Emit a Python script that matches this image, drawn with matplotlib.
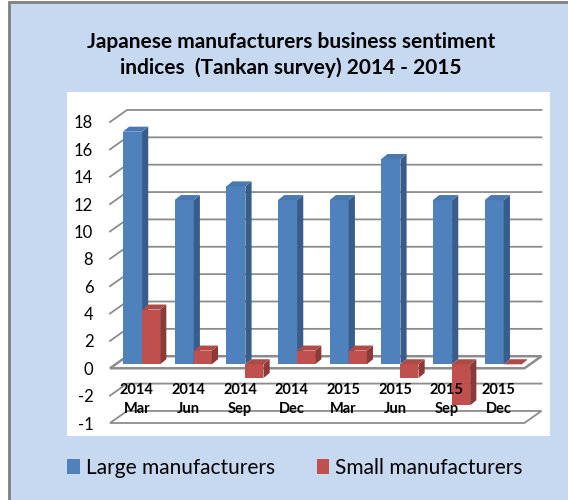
import matplotlib
matplotlib.use('Agg')
import matplotlib.pyplot as plt
from matplotlib.patches import Rectangle, Polygon

plt.rcParams['font.family'] = ['Lato', 'DejaVu Sans']

# data
periods = ['2014\nMar', '2014\nJun', '2014\nSep', '2014\nDec',
           '2015\nMar', '2015\nJun', '2015\nSep', '2015\nDec']
large = [17, 12, 13, 12, 12, 15, 12, 12]
small = [4, 1, -1, 1, 1, -1, -3, 0]
y_ticks = [18, 16, 14, 12, 10, 8, 6, 4, 2, 0, -2, -4]
y_labels = ['18', '16', '14', '12', '10', '8', '6', '4', '2', '0', '-2', '-1']

W, H = 568, 500
BG = '#c6d9f1'
BLUE, BLUE_SIDE, BLUE_TOP = '#4f81bd', '#385d8a', '#4a78b0'
RED, RED_SIDE, RED_TOP = '#c0504d', '#8c3a38', '#b04a47'
GRID = '#8c8c8c'


def fx(px):
    return px / W


def fy(py):
    return 1 - py / H


fig = plt.figure(figsize=(W / 100, H / 100), dpi=100)
fig.patch.set_facecolor('white')
# outer chart area + white plot area
fig.patches.append(Rectangle((fx(9), fy(H + 20)), 1.2, fy(2) - fy(H + 20), transform=fig.transFigure,
                             facecolor=BG, edgecolor='#7f7f7f', linewidth=2, zorder=-2))
fig.patches.append(Rectangle((fx(67), fy(436)), fx(550) - fx(67), fy(92) - fy(436), transform=fig.transFigure,
                             facecolor='white', edgecolor='none', zorder=-1))

fig.text(fx(291), fy(42), 'Japanese manufacturers business sentiment', ha='center', va='center',
         fontsize=15, fontweight='bold')
fig.text(fx(291), fy(68), 'indices  (Tankan survey) 2014 - 2015', ha='center', va='center',
         fontsize=15, fontweight='bold')

# axes: front plane spans 110..527 px horizontally, -4..18 -> 423..122 px
ax = fig.add_axes([fx(110), fy(423), fx(527) - fx(110), fy(122) - fy(423)])
ax.set_zorder(1)
ax.set_facecolor('none')
x_lo, x_hi = -0.62, 7.45
ax.set_xlim(x_lo, x_hi)
ax.set_ylim(-4, 18)
for s in ax.spines.values():
    s.set_visible(False)
ax.set_xticks([])
ax.set_yticks(y_ticks, y_labels)
ax.tick_params(axis='y', length=0, pad=12, labelsize=12)

DX, DY = 0.33, 0.88      # depth of the floor / walls
SY = 0.29                # bar front-face depth shift
BDX, BDY = 0.12, 0.37    # bar depth
x_end = x_hi - 0.05

# gridlines with the perspective stub at left
for v in y_ticks:
    if v in (0, -4):
        continue
    ax.plot([x_lo, x_lo + DX, x_end + DX], [v, v + DY, v + DY], color=GRID, lw=1.3, zorder=1,
            clip_on=False)

# floor (0) and bottom (-4) parallelograms
for v, lw in ((0, 1.8), (-4, 1.3)):
    ax.add_patch(Polygon([(x_lo, v), (x_end, v), (x_end + DX, v + DY), (x_lo + DX, v + DY)],
                         closed=True, facecolor='none', edgecolor=GRID, lw=lw, zorder=1, clip_on=False))

bw_l, bw_s = 0.37, 0.35
xs = list(range(len(periods)))


def box(x0, w, v, front, side, top):
    bars = ax.bar(x0, v, width=w, bottom=SY, align='edge', color=front, zorder=3)
    lo, hi = SY + min(v, 0), SY + max(v, 0)
    ax.add_patch(Polygon([(x0 + w, lo), (x0 + w, hi), (x0 + w + BDX, hi + BDY), (x0 + w + BDX, lo + BDY)],
                         closed=True, facecolor=side, edgecolor='none', zorder=3))
    ax.add_patch(Polygon([(x0, hi), (x0 + w, hi), (x0 + w + BDX, hi + BDY), (x0 + BDX, hi + BDY)],
                         closed=True, facecolor=top, edgecolor='none', zorder=3))
    return bars


h_large = h_small = None
for i in xs:
    b1 = box(i - bw_l, bw_l, large[i], BLUE, BLUE_SIDE, BLUE_TOP)
    b2 = box(i, bw_s, small[i], RED, RED_SIDE, RED_TOP)
    if i == 0:
        h_large, h_small = b1, b2

for i in xs:
    ax.text(i - 0.1, -2.3, periods[i], ha='center', va='center', fontsize=10.5,
            fontweight='bold', linespacing=1.45, zorder=5)

fig.legend([h_large, h_small], ['Large manufacturers', 'Small manufacturers'],
           loc='center', bbox_to_anchor=(fx(295), fy(468)), ncol=2, frameon=False,
           fontsize=15, handlelength=0.6, handleheight=0.7, handletextpad=0.3, columnspacing=2.0)

fig.savefig('out.png', dpi=100, facecolor=fig.get_facecolor())
